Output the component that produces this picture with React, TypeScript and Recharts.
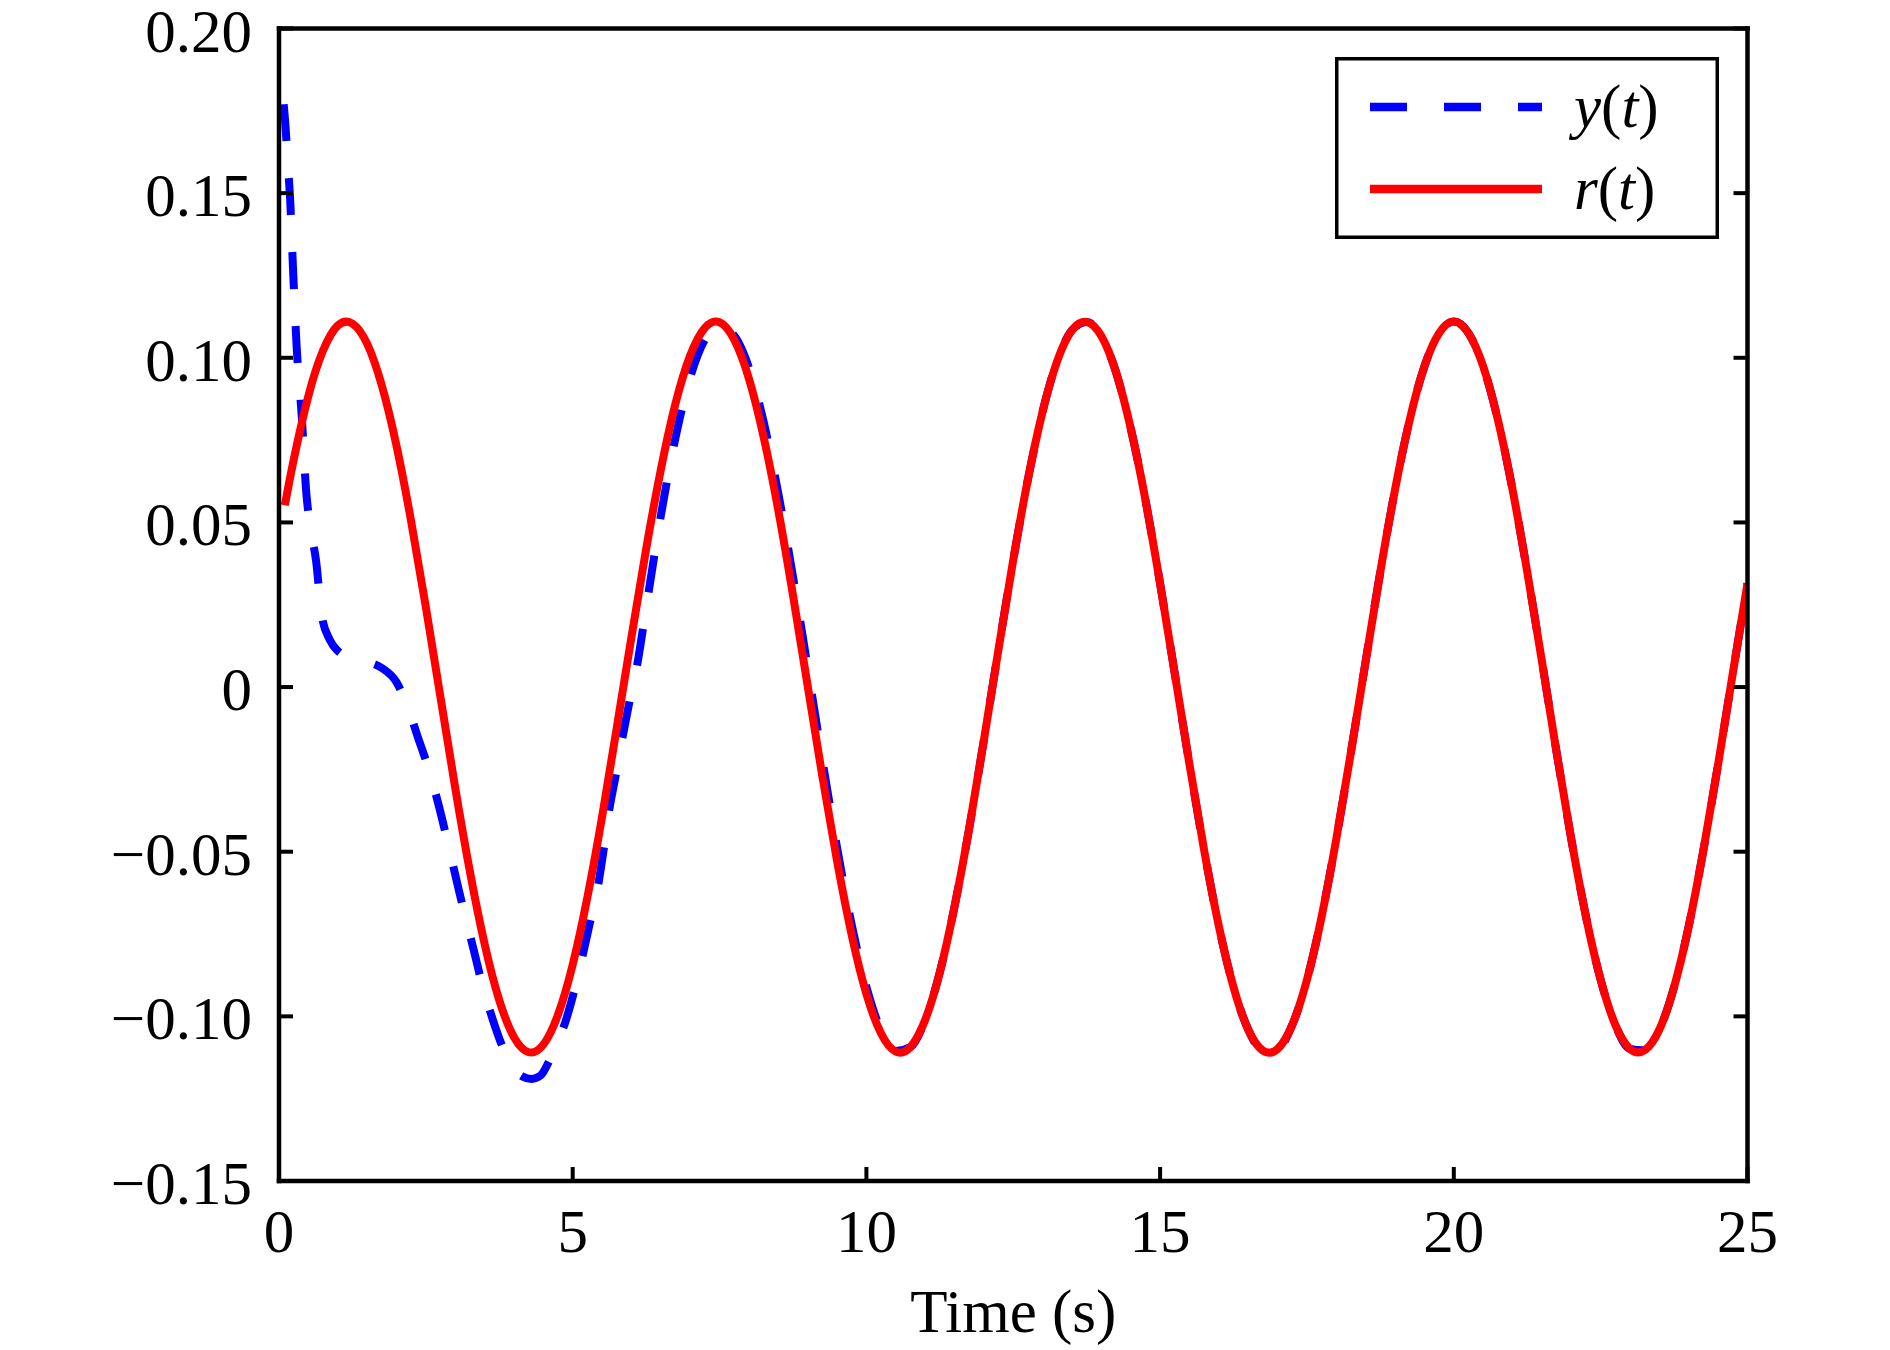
import React from "react";
import { Legend, Line, LineChart, XAxis, YAxis } from "recharts";

const FONT = "'Times New Roman', 'Liberation Serif', Times, serif";
const FONT_SIZE = 61;
const TICK_LEN = 14;
const AXIS_W = 4.5;

const X_TICKS = [0, 5, 10, 15, 20, 25];
const X_TICK_LABELS = ["0", "5", "10", "15", "20", "25"];
const Y_TICKS = [-0.15, -0.1, -0.05, 0, 0.05, 0.1, 0.15, 0.2];
const Y_TICK_LABELS = ["\u22120.15", "\u22120.10", "\u22120.05", "0", "0.05", "0.10", "0.15", "0.20"];
const LEGEND_ORDER = ["y(t)", "r(t)"];

// r(t) reference signal
const R_TIME = [
  0.1, 0.25, 0.5, 0.75, 1, 1.25, 1.5, 1.75, 2, 2.25, 2.5, 2.75, 3, 3.25, 3.5, 3.75,
  4, 4.25, 4.5, 4.75, 5, 5.25, 5.5, 5.75, 6, 6.25, 6.5, 6.75, 7, 7.25, 7.5, 7.75,
  8, 8.25, 8.5, 8.75, 9, 9.25, 9.5, 9.75, 10, 10.25, 10.5, 10.75, 11, 11.25, 11.5, 11.75,
  12, 12.25, 12.5, 12.75, 13, 13.25, 13.5, 13.75, 14, 14.25, 14.5, 14.75, 15, 15.25, 15.5, 15.75,
  16, 16.25, 16.5, 16.75, 17, 17.25, 17.5, 17.75, 18, 18.25, 18.5, 18.75, 19, 19.25, 19.5, 19.75,
  20, 20.25, 20.5, 20.75, 21, 21.25, 21.5, 21.75, 22, 22.25, 22.5, 22.75, 23, 23.25, 23.5, 23.75,
  24, 24.25, 24.5, 24.75, 25,
];
const R_VALUES = [
  0.0552, 0.069, 0.0884, 0.1022, 0.1098, 0.1104, 0.1043, 0.0916, 0.0733, 0.0503, 0.0243, -0.0032,
  -0.0306, -0.056, -0.078, -0.0951, -0.1063, -0.1109, -0.1086, -0.0995, -0.0843, -0.0638, -0.0394, -0.0124,
  0.0152, 0.0419, 0.066, 0.0861, 0.1007, 0.1091, 0.1108, 0.1055, 0.0937, 0.076, 0.0537, 0.0279,
  0.0004, -0.0271, -0.0528, -0.0753, -0.0932, -0.1052, -0.1107, -0.1093, -0.1011, -0.0866, -0.0667, -0.0429,
  -0.0161, 0.0116, 0.0386, 0.0631, 0.0837, 0.0991, 0.1084, 0.1109, 0.1066, 0.0956, 0.0786, 0.0569,
  0.0314, 0.0041, -0.0235, -0.0496, -0.0726, -0.0911, -0.104, -0.1104, -0.1099, -0.1026, -0.0889, -0.0697,
  -0.0461, -0.0197, 0.0079, 0.0351, 0.06, 0.0812, 0.0974, 0.1075, 0.111, 0.1075, 0.0974, 0.0812,
  0.06, 0.035, 0.0079, -0.0198, -0.0462, -0.0697, -0.0889, -0.1026, -0.1099, -0.1103, -0.104, -0.0911,
  -0.0726, -0.0495, -0.0234, 0.0042, 0.0315,
];

// y(t) output
const Y_TIME = [
  0.08, 0.11, 0.15, 0.19, 0.24, 0.3, 0.39, 0.46, 0.54, 0.63, 0.73, 0.86, 1, 1.25, 1.5, 1.75,
  2, 2.2, 2.36, 2.55, 2.72, 2.87, 3.02, 3.16, 3.31, 3.47, 3.64, 3.8, 3.98, 4.15, 4.3, 4.45,
  4.6, 4.73, 4.86, 5, 5.17, 5.3, 5.43, 5.53, 5.62, 5.73, 5.84, 5.96, 6.09, 6.25, 6.5, 6.75,
  7, 7.25, 7.5, 7.75, 8, 8.25, 8.5, 8.75, 9, 9.25, 9.5, 9.75, 10, 10.25, 10.5, 10.75,
  11, 11.25, 11.5, 11.75, 12, 12.25, 12.5, 12.75, 13, 13.25, 13.5, 13.75, 14, 14.25, 14.5, 14.75,
  15, 15.25, 15.5, 15.75, 16, 16.25, 16.5, 16.75, 17, 17.25, 17.5, 17.75, 18, 18.25, 18.5, 18.75,
  19, 19.25, 19.5, 19.75, 20, 20.25, 20.5, 20.75, 21, 21.25, 21.5, 21.75, 22, 22.25, 22.5, 22.75,
  23, 23.25, 23.5, 23.75, 24, 24.25, 24.5, 24.75, 25,
];
const Y_VALUES = [
  0.177, 0.1705, 0.159, 0.148, 0.1265, 0.1035, 0.0815, 0.06, 0.048, 0.0385, 0.0215, 0.0145, 0.011, 0.0088, 0.0077, 0.0058,
  0.0015, -0.0065, -0.015, -0.025, -0.036, -0.047, -0.0585, -0.069, -0.0795, -0.091, -0.101, -0.109, -0.1155, -0.1183, -0.119, -0.118,
  -0.1135, -0.108, -0.1025, -0.094, -0.0815, -0.071, -0.0605, -0.049, -0.0375, -0.027, -0.016, -0.005, 0.006, 0.024, 0.052, 0.0757,
  0.094, 0.1055, 0.1095, 0.1067, 0.097, 0.0806, 0.0588, 0.0335, 0.0059, -0.0221, -0.0487, -0.0722, -0.091, -0.1043, -0.1105, -0.1093,
  -0.1011, -0.0866, -0.0667, -0.0429, -0.0161, 0.0116, 0.0386, 0.0631, 0.0837, 0.0991, 0.1084, 0.1109, 0.1066, 0.0956, 0.0786, 0.0569,
  0.0314, 0.0041, -0.0235, -0.0496, -0.0726, -0.0911, -0.104, -0.1104, -0.1099, -0.1026, -0.0889, -0.0697, -0.0461, -0.0197, 0.0079, 0.0351,
  0.06, 0.0812, 0.0974, 0.1075, 0.111, 0.1075, 0.0974, 0.0812, 0.06, 0.035, 0.0079, -0.0198, -0.0462, -0.0697, -0.0889, -0.1026,
  -0.1099, -0.1103, -0.104, -0.0911, -0.0726, -0.0495, -0.0234, 0.0042, 0.0315,
];

const rData = R_TIME.map((t, i) => ({ t, v: R_VALUES[i] }));
const yData = Y_TIME.map((t, i) => ({ t, v: Y_VALUES[i] }));

const textStyle = { fontFamily: FONT, fontSize: FONT_SIZE, fill: "#000" };

function BottomTick({ x, y, payload }: any) {
  const label = X_TICK_LABELS[X_TICKS.indexOf(payload.value)];
  return (
    <g>
      <line x1={x} y1={y} x2={x} y2={y - TICK_LEN} stroke="#000" strokeWidth={4} />
      <text x={x} y={y + 71} textAnchor="middle" style={textStyle}>
        {label}
      </text>
    </g>
  );
}

function TopTick({ x, y }: any) {
  return <line x1={x} y1={y} x2={x} y2={y + TICK_LEN} stroke="#000" strokeWidth={4} />;
}

function LeftTick({ x, y, payload }: any) {
  const idx = Y_TICKS.findIndex((v) => Math.abs(v - payload.value) < 1e-9);
  return (
    <g>
      <line x1={x} y1={y} x2={x + TICK_LEN} y2={y} stroke="#000" strokeWidth={4} />
      <text x={x - 27} y={y + 23} textAnchor="end" style={textStyle}>
        {Y_TICK_LABELS[idx]}
      </text>
    </g>
  );
}

function RightTick({ x, y }: any) {
  return <line x1={x} y1={y} x2={x - TICK_LEN} y2={y} stroke="#000" strokeWidth={4} />;
}

function AxisTitle({ viewBox }: any) {
  if (!viewBox) return null;
  return (
    <text x={viewBox.x + viewBox.width / 2} y={viewBox.y + 151} textAnchor="middle" style={textStyle}>
      Time (s)
    </text>
  );
}

function LegendBox({ payload }: any) {
  const items = [...(payload || [])].sort(
    (a: any, b: any) => LEGEND_ORDER.indexOf(String(a.value)) - LEGEND_ORDER.indexOf(String(b.value)),
  );
  return (
    <svg width={384} height={182} style={{ display: "block" }}>
      <rect x={1.75} y={1.75} width={380.5} height={178.5} fill="#fff" stroke="#000" strokeWidth={3.5} />
      {items.map((entry: any, i: number) => {
        const name = String(entry.value);
        const cy = 50 + i * 82;
        return (
          <g key={name}>
            <line
              x1={35}
              x2={207}
              y1={cy}
              y2={cy}
              stroke={entry.color}
              strokeWidth={8.3}
              strokeDasharray={entry.payload?.strokeDasharray}
            />
            <text x={239} y={cy + 20} style={textStyle}>
              <tspan fontStyle="italic">{name[0]}</tspan>(<tspan fontStyle="italic">{name[2]}</tspan>)
            </text>
          </g>
        );
      })}
    </svg>
  );
}

const axisLine = { stroke: "#000", strokeWidth: AXIS_W, strokeLinecap: "square" as const };

export default function App() {
  return (
    <div style={{ position: "absolute", left: 0, top: 0, width: 1890, height: 1350, background: "#fff" }}>
      <LineChart width={1890} height={1350} margin={{ top: 27.5, right: 141.5, bottom: 168, left: 278 }}>
        <XAxis
          xAxisId="b"
          dataKey="t"
          type="number"
          domain={[0, 25]}
          ticks={X_TICKS}
          interval={0}
          allowDataOverflow
          height={1}
          tickSize={0}
          tickMargin={0}
          tickLine={false}
          axisLine={axisLine}
          tick={BottomTick}
          label={(props: any) => <AxisTitle {...props} />}
        />
        <XAxis
          xAxisId="t"
          orientation="top"
          type="number"
          domain={[0, 25]}
          ticks={X_TICKS}
          interval={0}
          allowDataOverflow
          height={1}
          tickSize={0}
          tickMargin={0}
          tickLine={false}
          axisLine={axisLine}
          tick={TopTick}
        />
        <YAxis
          yAxisId="l"
          type="number"
          domain={[-0.15, 0.2]}
          ticks={Y_TICKS}
          interval={0}
          allowDataOverflow
          width={1}
          tickSize={0}
          tickMargin={0}
          tickLine={false}
          axisLine={axisLine}
          tick={LeftTick}
        />
        <YAxis
          yAxisId="r"
          orientation="right"
          type="number"
          domain={[-0.15, 0.2]}
          ticks={Y_TICKS}
          interval={0}
          allowDataOverflow
          width={1}
          tickSize={0}
          tickMargin={0}
          tickLine={false}
          axisLine={axisLine}
          tick={RightTick}
        />
        <Legend
          layout="horizontal"
          verticalAlign="middle"
          align="center"
          content={LegendBox}
          wrapperStyle={{ position: "absolute", left: 1335, top: 57, width: 384, height: 182 }}
        />
        <Line
          xAxisId="b"
          yAxisId="l"
          data={yData}
          dataKey="v"
          name="y(t)"
          type="monotone"
          stroke="#0000FF"
          strokeWidth={8}
          strokeDasharray="37 37"
          dot={false}
          activeDot={false}
          isAnimationActive={false}
        />
        <Line
          xAxisId="b"
          yAxisId="l"
          data={rData}
          dataKey="v"
          name="r(t)"
          type="natural"
          stroke="#FF0000"
          strokeWidth={8}
          strokeLinejoin="round"
          dot={false}
          activeDot={false}
          isAnimationActive={false}
        />
      </LineChart>
    </div>
  );
}
